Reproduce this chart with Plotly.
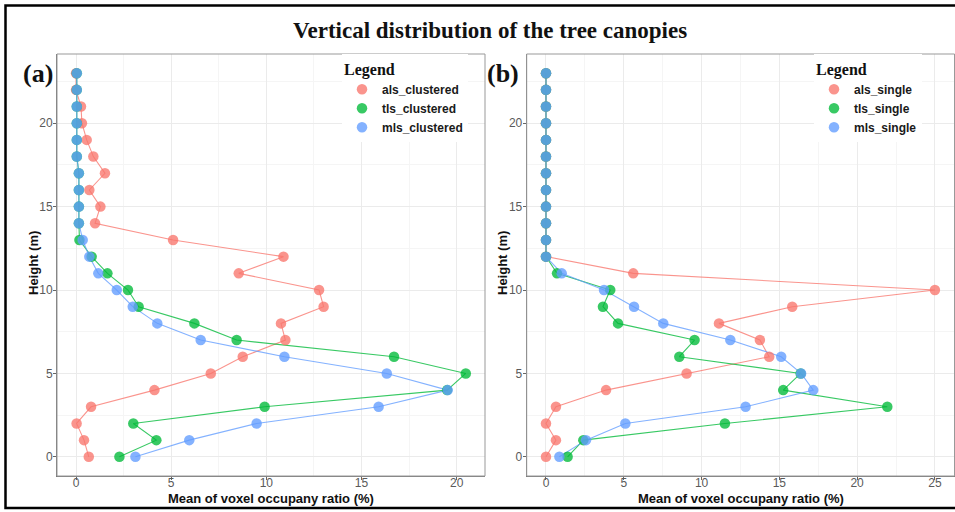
import plotly.graph_objects as go

# Height bins (m)
heights = list(range(24))

# Mean voxel occupancy ratio (%) per height bin - clustered trees
als_clustered = [0.67, 0.42, 0.03, 0.79, 4.12, 7.08, 8.76, 11.0, 10.77, 13.01, 12.77, 8.55,
                 10.9, 5.10, 1.0, 1.28, 0.70, 1.52, 0.91, 0.56, 0.31, 0.26, 0.0, 0.0]
tls_clustered = [2.28, 4.22, 3.01, 9.91, 19.5, 20.48, 16.71, 8.44, 6.22, 3.29, 2.73, 1.65,
                 0.82, 0.18, 0.15, 0.15, 0.15, 0.15, 0.04, 0.04, 0.04, 0.04, 0.04, 0.04]
mls_clustered = [3.12, 5.95, 9.49, 15.9, 19.53, 16.33, 10.95, 6.55, 4.27, 2.98, 2.14, 1.17,
                 0.70, 0.35, 0.15, 0.15, 0.15, 0.15, 0.04, 0.04, 0.04, 0.04, 0.04, 0.04]

# Mean voxel occupancy ratio (%) per height bin - single trees
als_single = [0.0, 0.64, 0.0, 0.64, 3.86, 9.04, 14.35, 13.75, 11.12, 15.83, 25.0, 5.61,
              0, 0, 0, 0, 0, 0, 0, 0, 0, 0, 0, 0]
tls_single = [1.39, 2.4, 11.5, 21.94, 15.25, 16.37, 8.57, 9.55, 4.63, 3.66, 4.13, 0.71,
              0, 0, 0, 0, 0, 0, 0, 0, 0, 0, 0, 0]
mls_single = [0.86, 2.57, 5.1, 12.83, 17.18, 16.4, 15.12, 11.85, 7.54, 5.66, 3.73, 1.01,
              0, 0, 0, 0, 0, 0, 0, 0, 0, 0, 0, 0]

W, H = 955, 512
ALPHA = 0.78
HUES = {"als": (248, 118, 109), "tls": (0, 186, 56), "mls": (97, 156, 255)}


def rgba(key, a=ALPHA):
    r, g, b = HUES[key]
    return f"rgba({r},{g},{b},{a})"


def px(x):
    return x / W


def py(y):
    return 1 - y / H


SANS = "Liberation Sans, Arial, sans-serif"
SERIF = "Liberation Serif, Times New Roman, serif"

panels = [
    ("x", "y", "legend", [("als", "als_clustered", als_clustered),
                          ("tls", "tls_clustered", tls_clustered),
                          ("mls", "mls_clustered", mls_clustered)]),
    ("x2", "y2", "legend2", [("als", "als_single", als_single),
                             ("tls", "tls_single", tls_single),
                             ("mls", "mls_single", mls_single)]),
]

fig = go.Figure()

# lines underneath, points on top
for xa, ya, lg, series in panels:
    for key, name, vals in series:
        fig.add_trace(go.Scatter(
            x=vals, y=heights, mode="lines", xaxis=xa, yaxis=ya,
            line=dict(color=rgba(key), width=1.1), showlegend=False,
            hoverinfo="skip"))
for xa, ya, lg, series in panels:
    for key, name, vals in series:
        fig.add_trace(go.Scatter(
            x=vals, y=heights, mode="markers", name=name, xaxis=xa, yaxis=ya,
            legend=lg, marker=dict(color=rgba(key), size=10.5, line=dict(width=0))))

tickfont = dict(family=SANS, size=12, color="#5a5a5a")
common_x = dict(
    tickmode="array", tickvals=[0, 5, 10, 15, 20, 25],
    ticks="outside", ticklen=3, tickcolor="#666", tickwidth=1,
    ticklabelstandoff=-7,
    showgrid=True, gridcolor="#ebebeb", gridwidth=1,
    minor=dict(tick0=0, dtick=2.5, showgrid=True, gridcolor="#f5f5f5", ticks=""),
    zeroline=False, showline=True, linecolor="#777", linewidth=1,
    tickfont=tickfont)
common_y = dict(
    range=[-1.15, 24.15], domain=[py(476), py(54)],
    tickmode="array", tickvals=[0, 5, 10, 15, 20],
    ticks="outside", ticklen=3, tickcolor="#666", tickwidth=1,
    ticklabelstandoff=-2,
    showgrid=True, gridcolor="#ebebeb", gridwidth=1,
    minor=dict(tick0=0, dtick=2.5, showgrid=True, gridcolor="#f5f5f5", ticks=""),
    zeroline=False, showline=True, linecolor="#777", linewidth=1,
    tickfont=tickfont)

xa1 = dict(common_x, domain=[px(57), px(485)], range=[-1.0, 21.49], anchor="y")
xa2 = dict(common_x, domain=[px(526.7), px(954.5)], range=[-1.24, 26.26], anchor="y2")
ya1 = dict(common_y, anchor="x")
ya2 = dict(common_y, anchor="x2")

legend_common = dict(
    xanchor="left", yanchor="top", bgcolor="white", borderwidth=0,
    font=dict(family=SANS, size=12, color="#1a1a1a", weight="bold"),
    itemwidth=30, tracegroupgap=0,
    title=dict(text="Legend", font=dict(family=SERIF, size=16, color="#111", weight="bold")))

annotations = [
    dict(text="Vertical distribution of the tree canopies", x=px(490), y=py(30),
         font=dict(family=SERIF, size=23, color="#111", weight="bold")),
    dict(text="(a)", x=px(38), y=py(73), font=dict(family=SERIF, size=26, color="#111", weight="bold")),
    dict(text="(b)", x=px(503), y=py(73), font=dict(family=SERIF, size=26, color="#111", weight="bold")),
    dict(text="Mean of voxel occupany ratio (%)", x=px(271), y=py(498),
         font=dict(family=SANS, size=13, color="#111", weight="bold")),
    dict(text="Mean of voxel occupany ratio (%)", x=px(741), y=py(498),
         font=dict(family=SANS, size=13, color="#111", weight="bold")),
    dict(text="Height (m)", x=px(33), y=py(263), textangle=-90,
         font=dict(family=SANS, size=13, color="#111", weight="bold")),
    dict(text="Height (m)", x=px(502), y=py(263), textangle=-90,
         font=dict(family=SANS, size=13, color="#111", weight="bold")),
]
for a in annotations:
    a.update(xref="paper", yref="paper", showarrow=False, xanchor="center", yanchor="middle")

shapes = [
    # panel frames
    dict(type="rect", xref="x domain", yref="y domain", x0=0, x1=1, y0=0, y1=1,
         line=dict(color="#999", width=1), layer="above"),
    dict(type="rect", xref="x2 domain", yref="y2 domain", x0=0, x1=1, y0=0, y1=1,
         line=dict(color="#999", width=1), layer="above"),
    # outer figure frame
    dict(type="rect", xref="paper", yref="paper", x0=px(5.5), x1=1.02, y0=py(508), y1=py(5.5),
         line=dict(color="black", width=2.5), layer="above"),
]

fig.update_layout(
    width=W, height=H, margin=dict(l=0, r=0, t=0, b=0),
    paper_bgcolor="white", plot_bgcolor="white",
    xaxis=xa1, yaxis=ya1, xaxis2=xa2, yaxis2=ya2,
    legend=dict(legend_common, x=px(342), y=py(54)),
    legend2=dict(legend_common, x=px(814), y=py(54)),
    annotations=annotations, shapes=shapes, showlegend=True,
)

fig.write_html("out.html")
